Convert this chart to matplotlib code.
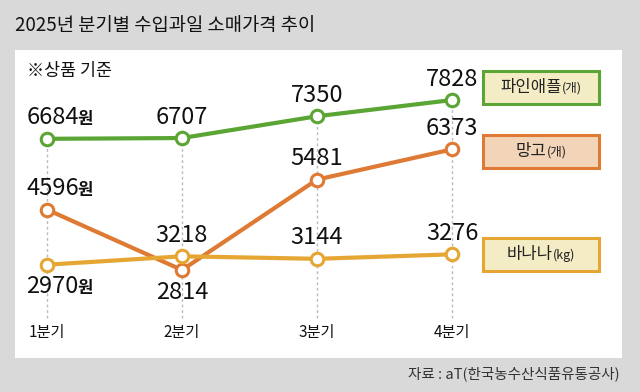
import matplotlib
matplotlib.use('Agg')
import matplotlib.pyplot as plt
from matplotlib.patches import Rectangle
from matplotlib.offsetbox import TextArea, HPacker, AnnotationBbox

plt.rcParams['font.family'] = ['Noto Sans CJK KR', 'DejaVu Sans']

# 데이터 (원)
quarters = ['1분기', '2분기', '3분기', '4분기']
pineapple = [6684, 6707, 7350, 7828]
mango = [4596, 2814, 5481, 6373]
banana = [2970, 3218, 3144, 3276]

series_names = [('파인애플', '(개)'), ('망고', '(개)'), ('바나나', '(kg)')]
line_colors = ['#5ba535', '#de7a34', '#e6a633']
box_faces = ['#f4ecc4', '#f2d5b8', '#f4ecc4']

# 라벨 위치: 위(+) / 아래(-)
pine_pos = [1, 1, 1, 1]
mango_pos = [1, -1, 1, 1]
banana_pos = [-1, 1, 1, 1]

W, H = 640, 392
fig = plt.figure(figsize=(6.4, 3.92), dpi=100)
fig.patch.set_facecolor('#d9d9d9')

# 흰 패널 = 축 영역
px0, py0, px1, py1 = 15, 50, 622, 358
ax = fig.add_axes([px0 / W, 1 - py1 / H, (px1 - px0) / W, (py1 - py0) / H])
ax.set_facecolor('white')
ax.set_xlim(-0.237, 4.259)
ax.set_ylim(218, 9304)
for s in ax.spines.values():
    s.set_visible(False)
ax.set_xticks([])
ax.set_yticks([])

x = list(range(len(quarters)))
txt = '#111111'

# 점선 세로선
for i in x:
    ax.plot([i, i], [1400, max(pineapple[i], mango[i], banana[i])],
            color='#bbbbbb', lw=1, ls=(0, (2, 2)), zorder=1)
    ax.text(i, 985, quarters[i], ha='center', va='center', fontsize=11,
            color=txt)

data = [pineapple, mango, banana]
positions = [pine_pos, mango_pos, banana_pos]
zorders = [5, 3, 4]
for vals, col, pos, z in zip(data, line_colors, positions, zorders):
    ax.plot(x, vals, color=col, lw=3, marker='o', ms=9, mfc='white',
            mec=col, mew=2.2, zorder=z, solid_capstyle='round')
    for i, v in enumerate(vals):
        dy = 15 if pos[i] > 0 else -16
        if i == 0:
            box = HPacker(children=[
                TextArea(f'{v}', textprops=dict(fontsize=17, color=txt)),
                TextArea('원', textprops=dict(fontsize=12, color=txt,
                                              fontweight='bold'))],
                align='baseline', pad=0, sep=-1)
            ab = AnnotationBbox(box, (i, v), xybox=(-15, dy),
                                xycoords='data', boxcoords='offset points',
                                box_alignment=(0, 0.5), frameon=False,
                                zorder=6)
            ax.add_artist(ab)
        else:
            ax.annotate(f'{v}', (i, v), xytext=(0, dy),
                        textcoords='offset points', ha='center',
                        va='center', fontsize=17, color=txt, zorder=6)

# 범례 상자
box_tops = [71, 135, 238]
bx0, bx1, bh = 483, 599, 33
for (name, unit), col, face, top in zip(series_names, line_colors,
                                        box_faces, box_tops):
    fig.patches.append(Rectangle((bx0 / W, 1 - (top + bh) / H),
                                 (bx1 - bx0) / W, bh / H,
                                 transform=fig.transFigure,
                                 facecolor=face, edgecolor=col, lw=2.2,
                                 zorder=10))
    pk = HPacker(children=[
        TextArea(name, textprops=dict(fontsize=12, color='#222222')),
        TextArea(unit, textprops=dict(fontsize=9, color='#222222'))],
        align='baseline', pad=0, sep=0)
    ab = AnnotationBbox(pk, ((bx0 + bx1) / 2 / W, 1 - (top + bh / 2) / H),
                        xycoords='figure fraction', box_alignment=(0.5, 0.5),
                        frameon=False, zorder=11)
    fig.add_artist(ab)

fig.text(15 / W, 1 - 25 / H, '2025년 분기별 수입과일 소매가격 추이',
         ha='left', va='center', fontsize=13.5, color=txt,
         fontweight='medium')
fig.text(27 / W, 1 - 71 / H, '※상품 기준', ha='left', va='center',
         fontsize=12.5, color=txt)
fig.text(620 / W, 1 - 374 / H, '자료 : aT(한국농수산식품유통공사)',
         ha='right', va='center', fontsize=10.5, color='#333333')

fig.savefig('out.png', dpi=100, facecolor=fig.get_facecolor())
